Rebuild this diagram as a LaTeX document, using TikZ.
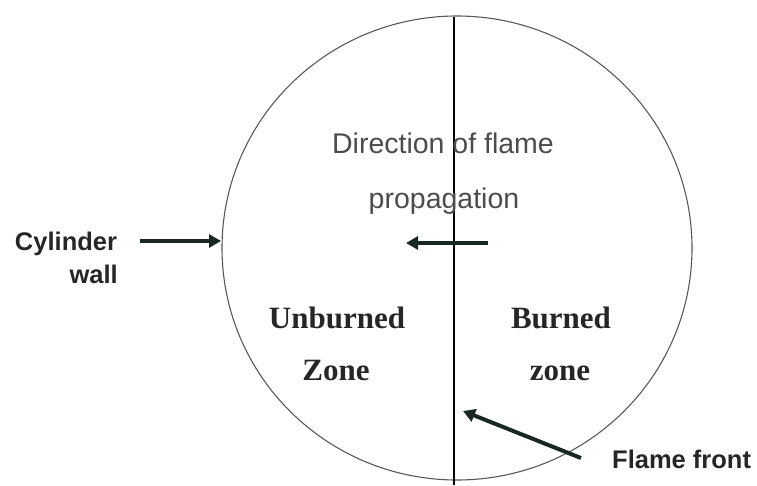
\documentclass[tikz,border=0pt]{standalone}
\usepackage{fontspec}
\setmainfont{Liberation Sans}
\newfontfamily\zonefont{Liberation Serif}
\usetikzlibrary{shapes.geometric,arrows.meta}
\tikzset{
  lbl/.style={inner sep=0pt, anchor=base, font=\bfseries\fontsize{25.5}{30}\selectfont, text=black!85},
  dirlbl/.style={inner sep=0pt, anchor=base, font=\fontsize{28.5}{34}\selectfont, text=black!70},
  zonelbl/.style={inner sep=0pt, anchor=base, font=\zonefont\bfseries\fontsize{31}{36}\selectfont, text=black!85},
  pointer/.style={line width=4pt, draw={rgb,255:red,25;green,40;blue,35}, -{Triangle[length=12pt,width=13pt]}},
  wall/.style={draw=black!65, line width=1.1pt},
  front/.style={draw=black, line width=2.6pt}
}
\begin{document}
\begin{tikzpicture}[x=1pt,y=-1pt]
\useasboundingbox (0,0) rectangle (757,485);
% cylinder
\node[ellipse, wall, minimum width=470pt, minimum height=464pt, inner sep=0pt] (cyl) at (457,248) {};
% flame front line
\coordinate (ftop) at (454,17);
\coordinate (fbot) at (454,485);
\draw[front] (ftop) -- (fbot);
% labels
\node[lbl] (cyltxt) at (66,250) {Cylinder};
\node[lbl, anchor=base east] (walltxt) at (118,283) {wall};
\node[dirlbl] (dir1) at (443,153) {Direction of flame};
\node[dirlbl] (dir2) at (444,208) {propagation};
\node[zonelbl] (unb1) at (337,328) {Unburned};
\node[zonelbl] (unb2) at (336,380) {Zone};
\node[zonelbl] (bur1) at (561,328) {Burned};
\node[zonelbl] (bur2) at (560,380) {zone};
\node[lbl, anchor=base west] (fftxt) at (612,468) {Flame front};
% arrows
\coordinate (cwstart) at (140,241);
\coordinate (cwend) at (221,241);
\draw[pointer] (cwstart) -- (cwend);
\coordinate (dstart) at (488,243);
\coordinate (dend) at (406,243);
\draw[pointer] (dstart) -- (dend);
\coordinate (ffstart) at (581,458);
\coordinate (ffend) at (463,411);
\draw[pointer] (ffstart) -- (ffend);
\end{tikzpicture}
\end{document}
